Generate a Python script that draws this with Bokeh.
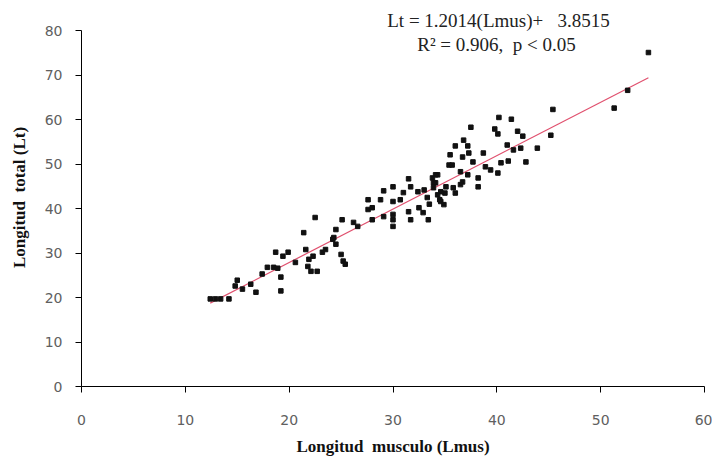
from bokeh.plotting import figure
from bokeh.models import Range1d, Label, FixedTicker, ColumnDataSource
from bokeh.embed import file_html
from bokeh.resources import INLINE

# Data (Lmus, Lt)
lmus = [12.4, 12.9, 13.4, 14.2, 14.8, 15.0, 15.5, 16.3, 16.8, 17.4, 17.9, 18.5, 18.9, 19.2, 19.2,
        18.7, 19.4, 19.9, 20.6, 21.4, 21.6, 21.8, 21.9, 22.3, 22.7, 22.5, 22.1, 23.2, 23.5, 24.2,
        24.3, 24.5, 24.5, 25.1, 26.2, 26.6, 25.0, 25.2, 25.4, 27.6, 28.0, 27.6, 28.8, 28.0, 29.1,
        29.1, 30.0, 30.0, 30.7, 31.0, 31.5, 31.7, 32.4, 33.3, 30.0, 31.5, 32.5, 32.9, 31.7, 33.4,
        30.0, 30.0, 33.9, 34.3, 34.6, 35.1, 35.4,
        40.2, 41.4, 37.5, 39.8, 40.1, 42.0, 42.5, 36.8, 36.0, 37.2, 41.0, 43.9, 35.5, 36.7, 37.3,
        38.7, 41.6, 42.3, 41.1, 42.8, 35.7, 37.7, 36.5, 38.9, 39.4, 40.1, 40.4, 34.1, 37.2, 38.2,
        33.8, 36.7, 34.1, 33.0, 33.9, 35.8, 36.5, 38.2, 34.3, 34.6, 34.9,
        34.5, 35.0, 33.5, 36.0,
        54.6, 52.6, 51.3, 45.4, 45.2]
lt = [19.7, 19.7, 19.7, 19.7, 22.6, 23.9, 21.9, 23.0, 21.2, 25.3, 26.8, 26.8, 26.6, 24.6, 21.5,
      30.2, 29.3, 30.2, 27.9, 34.6, 30.8, 27.0, 28.6, 29.3, 25.9, 38.0, 25.9, 30.2, 30.8, 33.1,
      33.5, 32.0, 35.3, 37.5, 36.9, 36.0, 29.7, 28.2, 27.5, 39.8, 40.2, 42.0, 42.0, 37.5, 38.2,
      44.0, 44.9, 41.6, 42.0, 43.6, 46.7, 44.9, 43.8, 42.5, 38.7, 39.3, 40.2, 39.1, 37.5, 37.5,
      36.0, 37.5, 45.8, 47.6, 43.8, 44.9, 49.8,
      60.5, 60.1, 58.3, 57.9, 56.8, 57.4, 56.3, 55.4, 54.1, 54.1, 54.3, 53.6, 52.1, 51.6, 52.5,
      52.5, 53.2, 53.6, 50.7, 50.5, 49.8, 50.5, 48.3, 49.4, 48.7, 48.0, 50.3, 47.6, 47.6, 46.9,
      46.9, 46.0, 45.8, 44.2, 44.7, 44.7, 45.4, 44.9, 43.1, 41.6, 40.9,
      42.0, 43.5, 41.0, 43.5,
      75.1, 66.6, 62.6, 62.3, 56.5]

slope = 1.2014
intercept = 3.8515
x_ticks = [0, 10, 20, 30, 40, 50, 60]
y_ticks = [0, 10, 20, 30, 40, 50, 60, 70, 80]
NB = "\u00a0"
eq_line1 = "Lt = 1.2014(Lmus)+" + NB + NB + " 3.8515"
eq_line2 = "R² = 0.906," + NB + NB + "p < 0.05"

W, H = 712, 458
# the frame reaches above 80 so the equation text sits inside it; the axis stops at 80
p = figure(width=W, height=H, output_backend="svg", toolbar_location=None,
           x_range=Range1d(0, 60), y_range=Range1d(0, 85),
           min_border_left=81, min_border_top=8, min_border_right=8, min_border_bottom=70)
p.outline_line_color = None
p.grid.visible = False
p.background_fill_color = "white"

for ax in (p.xaxis[0], p.yaxis[0]):
    ax.axis_line_color = "black"
    ax.axis_line_width = 1
    ax.major_tick_line_color = "black"
    ax.major_tick_out = 6
    ax.major_tick_in = 0
    ax.minor_tick_line_color = None
    ax.major_label_text_font = "DejaVu Sans"
    ax.major_label_text_font_size = "14px"
    ax.major_label_text_color = "#606060"
    ax.axis_label_text_font = "Liberation Serif"
    ax.axis_label_text_font_style = "bold"
    ax.axis_label_text_font_size = "17px"
    ax.axis_label_text_color = "#111111"

p.yaxis.bounds = (0, 80)
p.xaxis.ticker = FixedTicker(ticks=x_ticks)
p.yaxis.ticker = FixedTicker(ticks=y_ticks)
p.xaxis.axis_label = "Longitud" + NB + " musculo (Lmus)"
p.yaxis.axis_label = "Longitud" + NB + " total (Lt)"
p.xaxis.major_label_standoff = 22
p.xaxis.axis_label_standoff = 9
p.yaxis.major_label_standoff = 13
p.yaxis.axis_label_standoff = 13

x0, x1 = min(lmus), max(lmus)
p.line([x0, x1], [slope * x0 + intercept, slope * x1 + intercept],
       line_color="#e0506e", line_width=1.2)

src = ColumnDataSource(data=dict(x=lmus, y=lt))
p.scatter("x", "y", source=src, marker="square", size=4.5, fill_color="#111111",
          line_color="#111111")

# screen units here are measured from the frame's bottom-left corner
p.add_layout(Label(x=417, y=366, x_units="screen", y_units="screen", text=eq_line1,
                   text_align="center", text_baseline="middle", level="overlay",
                   text_font="Liberation Serif", text_font_size="19px", text_color="#222222"))
p.add_layout(Label(x=415, y=342, x_units="screen", y_units="screen", text=eq_line2,
                   text_align="center", text_baseline="middle", level="overlay",
                   text_font="Liberation Serif", text_font_size="19px", text_color="#222222"))

open("out.html", "w").write(file_html(p, INLINE))
